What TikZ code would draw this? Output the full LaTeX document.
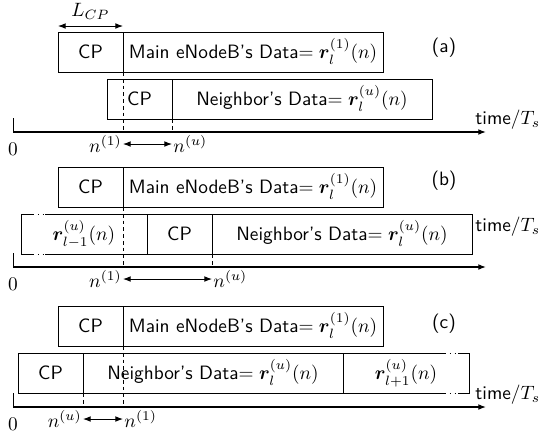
\documentclass[tikz,border=0pt]{standalone}
\usepackage{bm}
\usetikzlibrary{arrows.meta,positioning,calc}
\newcommand{\px}{0.0182cm}
\tikzset{
  >={Latex[length=4pt,width=3pt]},
  cell/.style      = {draw, rectangle, inner sep=0pt, outer sep=0pt, minimum height=40*\px,
                      text height=1.05em, text depth=.35em, font=\sffamily},
  cp/.style        = {cell, minimum width=65*\px},
  data/.style      = {cell, minimum width=260*\px},
  open cell/.style = {cell, draw=none, minimum width=126*\px},
  gap/.style       = {dotted},
  guide/.style     = {dash pattern=on 2pt off 1.5pt},
  span/.style      = {<->},
  axis/.style      = {->, line width=.6pt},
  tag/.style       = {font=\sffamily}
}

\begin{document}
\begin{tikzpicture}[x=\px, y=-\px, line width=.5pt]
    \useasboundingbox (0,0) rectangle (541,432);

    % main eNodeB rows and time axes
    \foreach \p/\rowy/\axy/\timey in {A/32/132/120, B/167/267/227, C/306/407/395}{
      \node[cp, anchor=north west] (cp\p) at (58,\rowy) {CP};
      \node[data, right=0pt of cp\p] (main\p) {Main eNodeB's Data$=\bm{r}_l^{(1)}(n)$};
      \coordinate (o\p) at (13,\axy);
      \coordinate (e\p) at (486,\axy);
      \draw[axis] (o\p) -- (e\p);
      \draw (o\p) -- ++(0,-14);
      \node[below=2pt of o\p] (zero\p) {$0$};
      \node[tag, anchor=west, inner sep=.5pt] (time\p) at (474,\timey) {time$/T_s$};
    }
    \draw[span] ($(cpA.north west)+(0,-6)$) -- ($(cpA.north east)+(0,-6)$)
      node[midway, above] (lcp) {$L_{CP}$};

    % (a)
    \node[tag] (tagA) at (444,48) {(a)};
    \node[cp, anchor=north west] (ncpA) at (107,79) {CP};
    \node[data, right=0pt of ncpA] (ndataA) {Neighbor's Data$=\bm{r}_l^{(u)}(n)$};
    \coordinate (m1A) at (cpA.south east |- oA);
    \coordinate (muA) at (ncpA.south east |- oA);
    \draw[guide] (cpA.south east) -- (m1A);
    \draw[guide] (ncpA.south east) -- (muA);
    \draw[span] ($(m1A)+(0,12)$) coordinate (s1A) -- ($(muA)+(0,12)$) coordinate (suA);
    \node[anchor=east, inner sep=.5pt] (n1A) at (s1A) {$n^{(1)}$};
    \node[anchor=west, inner sep=.5pt] (nuA) at (suA) {$n^{(u)}$};

    % (b)
    \node[tag] (tagB) at (444,181) {(b)};
    \node[open cell, anchor=north west] (lmB) at (21,214) {$\bm{r}_{l-1}^{(u)}(n)$};
    \node[cp, right=0pt of lmB] (ncpB) {CP};
    \node[data, right=0pt of ncpB] (ndataB) {Neighbor's Data$=\bm{r}_l^{(u)}(n)$};
    \draw (lmB.north east) -- ($(lmB.north west)+(24,0)$)
          ($(lmB.north west)+(12,0)$) -- (lmB.north west) -- (lmB.south west) -- ($(lmB.south west)+(12,0)$)
          ($(lmB.south west)+(24,0)$) -- (lmB.south east);
    \draw[gap] ($(lmB.north west)+(12,0)$) -- ($(lmB.north west)+(24,0)$)
               ($(lmB.south west)+(12,0)$) -- ($(lmB.south west)+(24,0)$);
    \coordinate (m1B) at (cpB.south east |- oB);
    \coordinate (muB) at (ncpB.south east |- oB);
    \draw[guide] (cpB.south east) -- (m1B);
    \draw[guide] (ncpB.south east) -- (muB);
    \draw[span] ($(m1B)+(0,12)$) coordinate (s1B) -- ($(muB)+(0,12)$) coordinate (suB);
    \node[anchor=east, inner sep=.5pt] (n1B) at (s1B) {$n^{(1)}$};
    \node[anchor=west, inner sep=.5pt] (nuB) at (suB) {$n^{(u)}$};

    % (c)
    \node[tag] (tagC) at (444,324) {(c)};
    \node[cp, anchor=north west] (ncpC) at (18,353) {CP};
    \node[data, right=0pt of ncpC] (ndataC) {Neighbor's Data$=\bm{r}_l^{(u)}(n)$};
    \node[open cell, right=0pt of ndataC] (lpC) {$\bm{r}_{l+1}^{(u)}(n)$};
    \draw (lpC.north west) -- ($(lpC.north east)+(-24,0)$)
          ($(lpC.north east)+(-11,0)$) -- (lpC.north east) -- (lpC.south east) -- ($(lpC.south east)+(-11,0)$)
          ($(lpC.south east)+(-24,0)$) -- (lpC.south west);
    \draw[gap] ($(lpC.north east)+(-24,0)$) -- ($(lpC.north east)+(-11,0)$)
               ($(lpC.south east)+(-24,0)$) -- ($(lpC.south east)+(-11,0)$);
    \coordinate (muC) at (ncpC.south east |- oC);
    \coordinate (m1C) at (cpC.south east |- oC);
    \draw[guide] (ncpC.south east) -- (muC);
    \draw[guide] (cpC.south east) -- (m1C);
    \draw[span] ($(muC)+(0,12)$) coordinate (suC) -- ($(m1C)+(0,12)$) coordinate (s1C);
    \node[anchor=east, inner sep=.5pt] (nuC) at (suC) {$n^{(u)}$};
    \node[anchor=west, inner sep=.5pt] (n1C) at (s1C) {$n^{(1)}$};
\end{tikzpicture}
\end{document}
